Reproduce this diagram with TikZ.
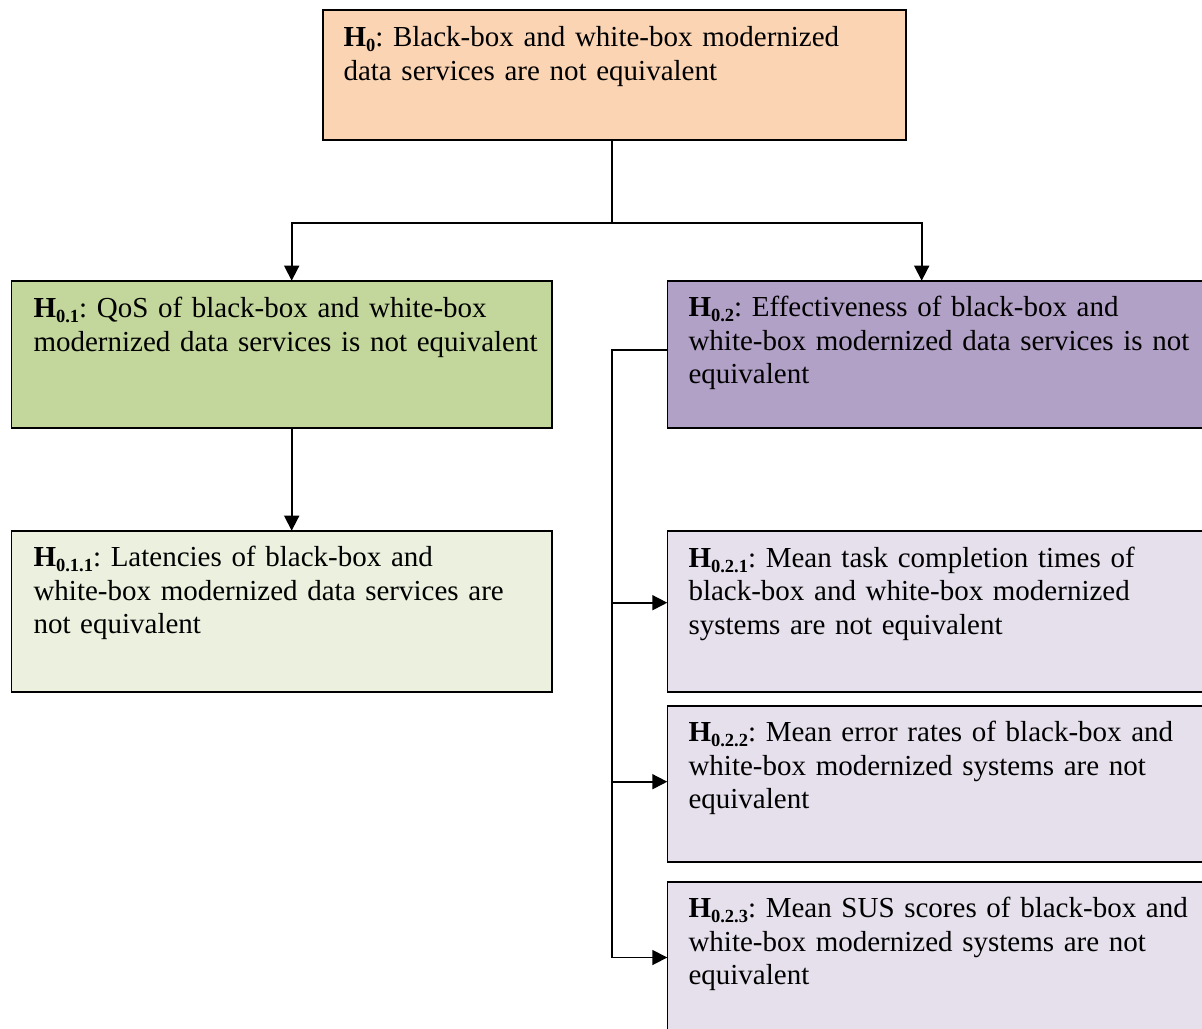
\documentclass[tikz,border=0pt]{standalone}
\usepackage{fontspec}
\setmainfont{Liberation Serif}
\usetikzlibrary{arrows.meta}
\definecolor{peach}{HTML}{FBD4B4}
\definecolor{olive}{HTML}{C3D69B}
\definecolor{lolive}{HTML}{EBF1DE}
\definecolor{lilac}{HTML}{B2A1C7}
\definecolor{llilac}{HTML}{E5E0EC}
\newcommand{\hname}[1]{\textbf{H\raisebox{-5pt}{\fontsize{18.5}{18.5}\selectfont #1}}}
\begin{document}
\begin{tikzpicture}[x=1pt,y=-1pt,
  box/.style={draw=black, line width=1.6pt, rectangle, inner sep=0pt, outer sep=0pt, anchor=north west},
  txt/.style={anchor=base west, inner sep=0pt, outer sep=0pt, text width=560pt, align=left,
              font=\fontsize{29}{33.5}\selectfont\frenchspacing},
  conn/.style={line width=1.7pt},
  arr/.style={conn, -{Triangle[length=15pt,width=15pt]}}]
\clip (0,0) rectangle (1202,1028);
\fill[white] (0,0) rectangle (1202,1028);

% boxes
\node[box, fill=peach,  minimum width=583.3pt, minimum height=130pt] (h0)   at (322.7,10)   {};
\node[box, fill=olive,  minimum width=540.5pt, minimum height=147.3pt] (h01)  at (11.5,280.7)  {};
\node[box, fill=lilac,  minimum width=545pt,   minimum height=147.3pt] (h02)  at (667.3,280.7) {};
\node[box, fill=lolive, minimum width=540.5pt, minimum height=161pt] (h011) at (11.5,530.7)  {};
\node[box, fill=llilac, minimum width=545pt,   minimum height=161pt] (h021) at (667.3,530.7) {};
\node[box, fill=llilac, minimum width=545pt,   minimum height=156pt] (h022) at (667.3,705.7) {};
\node[box, fill=llilac, minimum width=545pt,   minimum height=170pt] (h023) at (667.3,881.7) {};

% texts
\node[txt] (t0)   at (343.5,46.7)  {\hname{0}: Black-box and white-box modernized\\data services are not equivalent};
\node[txt] (t01)  at (33.5,317.7)  {\hname{0.1}: QoS of black-box and white-box\\modernized data services is not equivalent};
\node[txt] (t02)  at (688.5,316.7) {\hname{0.2}: Effectiveness of black-box and\\white-box modernized data services is not\\equivalent};
\node[txt] (t011) at (33.5,566.5)  {\hname{0.1.1}: Latencies of black-box and\\white-box modernized data services are\\not equivalent};
\node[txt] (t021) at (688.5,567.2) {\hname{0.2.1}: Mean task completion times of\\black-box and white-box modernized\\systems are not equivalent};
\node[txt] (t022) at (688.5,741.7) {\hname{0.2.2}: Mean error rates of black-box and\\white-box modernized systems are not\\equivalent};
\node[txt] (t023) at (688.5,917.7) {\hname{0.2.3}: Mean SUS scores of black-box and\\white-box modernized systems are not\\equivalent};

% connector points
\coordinate (j)  at (611.7,222.7);
\coordinate (a1) at (291.7,222.7);
\coordinate (a2) at (921.7,222.7);
\coordinate (b)  at (611.7,350);
\coordinate (b1) at (611.7,602.7);
\coordinate (b2) at (611.7,781.7);
\coordinate (b3) at (611.7,957.5);

% connectors
\draw[conn] (h0.south -| j) -- (j);
\draw[arr] (j) -- (a1) -- (a1 |- h01.north);
\draw[arr] (j) -- (a2) -- (a2 |- h02.north);
\draw[arr] (h01.south -| a1) -- (a1 |- h011.north);
\draw[conn] (h02.west |- b) -- (b) -- (b3);
\draw[arr] (b1) -- (b1 -| h021.west);
\draw[arr] (b2) -- (b2 -| h022.west);
\draw[arr] (b3) -- (b3 -| h023.west);
\end{tikzpicture}
\end{document}
